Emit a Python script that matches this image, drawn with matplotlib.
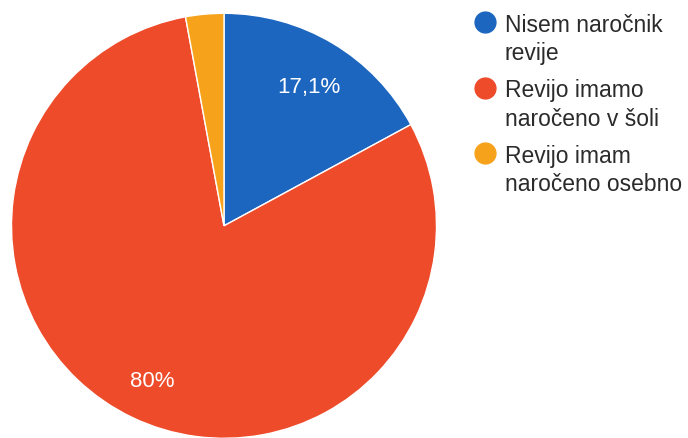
import matplotlib.pyplot as plt

labels = ['Nisem naročnik\nrevije', 'Revijo imamo\nnaročeno v šoli', 'Revijo imam\nnaročeno osebno']
values = [17.1, 80.0, 2.9]
colors = ['#1c66c0', '#ee4b2b', '#f7a21b']

plt.rcParams['font.family'] = ['Liberation Sans', 'DejaVu Sans']

W, H = 688, 438
fig = plt.figure(figsize=(W / 100, H / 100), dpi=100)

# pie circle: left 11.5 px, diameter 425 px, top at 13.3 px
ax = fig.add_axes([11.5 / W, (H - 13.3 - 425) / H, 425 / W, 425 / H])


def pct_label(p):
    if p < 5:
        return ''
    s = f'{p:.1f}'.replace('.', ',')
    if s.endswith(',0'):
        s = s[:-2]
    return s + '%'


wedges, texts, autotexts = ax.pie(values, colors=colors, startangle=90, counterclock=False,
                                  radius=1, autopct=pct_label, pctdistance=0.785,
                                  wedgeprops=dict(edgecolor='white', linewidth=1),
                                  textprops=dict(color='white', fontsize=16))
# nudge the percent labels down a little (digits sit high with va=center)
for t in autotexts:
    x, y = t.get_position()
    t.set_position((x, y - 0.025))
ax.set_xlim(-1, 1)
ax.set_ylim(-1, 1)
ax.set_aspect('equal')
ax.axis('off')

# legend drawn by hand: marker next to first line of each wrapped label
first_base = 32
entry_step = 65.5
line_step = 28
for i, (lab, col) in enumerate(zip(labels, colors)):
    base = first_base + i * entry_step
    fig.add_artist(plt.Line2D([485 / W], [1 - (base - 10) / H], marker='o', markersize=15,
                              color=col, markeredgecolor=col, linestyle='none',
                              transform=fig.transFigure))
    for j, line in enumerate(lab.split('\n')):
        fig.text(505 / W, 1 - (base + j * line_step) / H, line, fontsize=16.5,
                 color='#2b2b2b', va='baseline', ha='left')

fig.savefig('out.png', dpi=100)
